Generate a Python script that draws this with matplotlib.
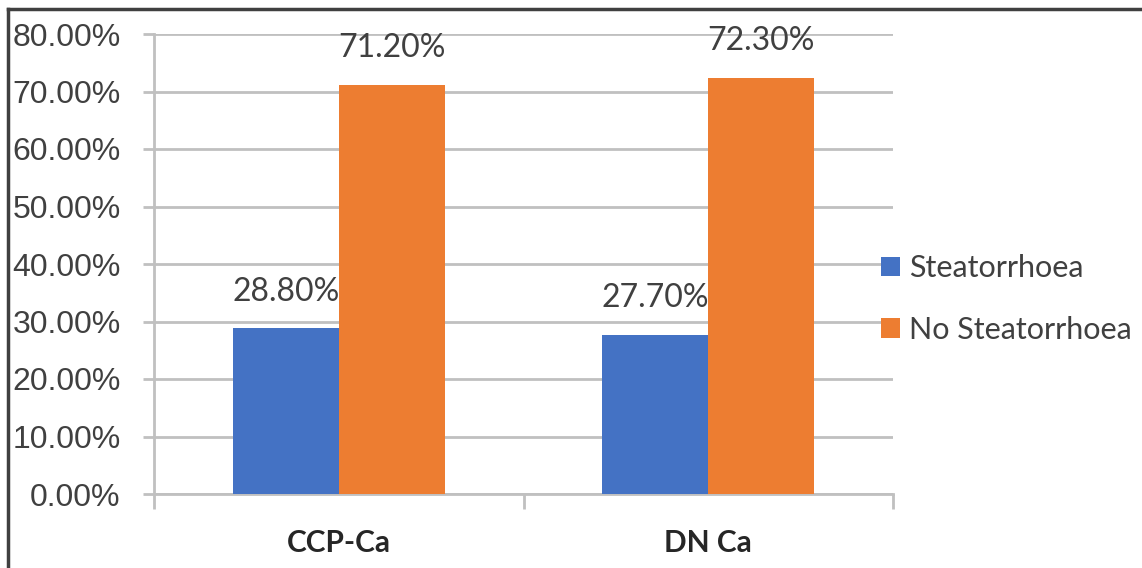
import matplotlib.pyplot as plt
from matplotlib.lines import Line2D
from matplotlib.ticker import FuncFormatter
import numpy as np

groups = ['CCP-Ca', 'DN Ca']
series = ['Steatorrhoea', 'No Steatorrhoea']
steatorrhoea = [28.8, 27.7]
no_steatorrhoea = [71.2, 72.3]
colors = ['#4472C4', '#ED7D31']

W, H = 1142, 568
fig = plt.figure(figsize=(W / 100, H / 100), dpi=100)
ax = fig.add_axes([154 / W, 1 - 494 / H, (893 - 154) / W, (494 - 34) / H])

x = np.arange(len(groups))
bw = 0.287
grid_c = '#c0c0c0'

for i, (vals, c, name) in enumerate(zip([steatorrhoea, no_steatorrhoea], colors, series)):
    pos = x + (i - 0.5) * bw
    bars = ax.bar(pos, vals, width=bw, color=c, label=name, zorder=3)
    for b, v in zip(bars, vals):
        ax.text(b.get_x() + b.get_width() / 2, v + 3.8, f'{v:.2f}%',
                ha='center', va='bottom', fontsize=23, family='Lato',
                color='#404040', zorder=4)

ax.set_xlim(-0.5, 1.5)
ax.set_ylim(0, 80)
ax.set_yticks(np.arange(0, 81, 10))
ax.yaxis.set_major_formatter(FuncFormatter(lambda v, p: f'{v:.2f}%'))
ax.grid(axis='y', color=grid_c, lw=2, zorder=0)

ax.set_xticks([-0.5, 0.5, 1.5])
ax.set_xticklabels([])
ax.set_xticks(x, minor=True)
ax.set_xticklabels(groups, minor=True, fontsize=21.5, family='Lato',
                   fontweight='bold', color='#262626')
ax.tick_params(axis='x', which='major', length=11, width=2, color=grid_c,
               direction='out')
ax.tick_params(axis='x', which='minor', length=0, pad=25)
ax.tick_params(axis='y', length=8, width=2, color=grid_c, pad=16,
               labelsize=23, labelcolor='#404040')
for t in ax.get_yticklabels():
    t.set_family('Liberation Sans')

for s in ['top', 'right']:
    ax.spines[s].set_visible(False)
ax.spines['left'].set_color(grid_c)
ax.spines['left'].set_linewidth(2)
ax.spines['left'].set_bounds(0, 80)
ax.spines['bottom'].set_color(grid_c)
ax.spines['bottom'].set_linewidth(2)

leg = ax.legend(loc='center left', bbox_to_anchor=(869 / W, 1 - 299 / H),
                bbox_transform=fig.transFigure, frameon=False,
                handlelength=0.6, handleheight=0.6, handletextpad=0.3,
                labelspacing=1.1, borderaxespad=0,
                prop={'family': 'Lato', 'size': 22})
for t in leg.get_texts():
    t.set_color('#404040')

# outer frame lines
fig.add_artist(Line2D([8 / W, 1], [1 - 9 / H, 1 - 9 / H], color='#404040', lw=2.5))
fig.add_artist(Line2D([8 / W, 8 / W], [0, 1 - 9 / H], color='#404040', lw=2.5))

fig.savefig('out.png', dpi=100)
